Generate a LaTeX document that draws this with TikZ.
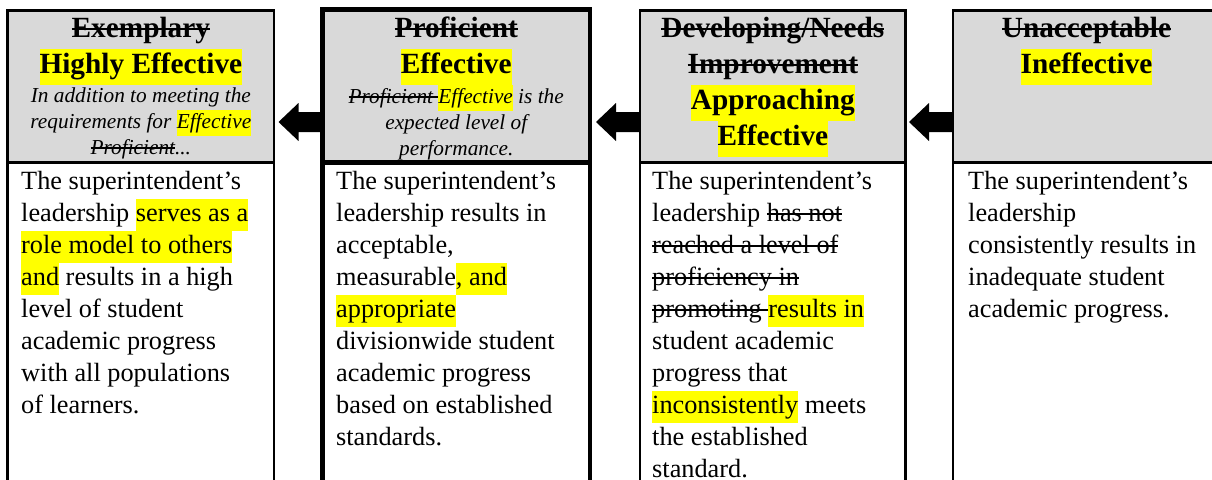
\documentclass[tikz,border=0pt]{standalone}
\usepackage{fontspec}
\setmainfont{Liberation Serif}
\definecolor{hdrgray}{RGB}{217,217,217}
\definecolor{hlyellow}{RGB}{255,255,0}
\newlength\strkth
\setlength\strkth{2pt}
\newcommand\hlt[1]{{\setlength\fboxsep{0pt}\colorbox{hlyellow}{\strut#1}}}
\newcommand\strk[1]{\leavevmode\setbox0\hbox{#1}\rlap{\rule[0.25em]{\wd0}{\strkth}}\box0}
\begin{document}
\begin{tikzpicture}[x=1pt,y=-1pt,
  hdrbox/.style={draw=black, fill=hdrgray, line width=2.6pt, inner sep=0pt, outer sep=0pt, anchor=north west},
  bodybox/.style={draw=black, fill=white, line width=2.6pt, inner sep=0pt, outer sep=0pt, anchor=north west},
  thickbox/.style={line width=4.6pt},
  titletxt/.style={anchor=north, inner sep=0pt, align=center, font=\setlength\strkth{2.8pt}\bfseries\fontsize{29.3}{36}\selectfont},
  notetxt/.style={anchor=north, inner sep=0pt, align=center, font=\setlength\strkth{1.6pt}\itshape\fontsize{21.3}{26}\selectfont},
  bodytxt/.style={anchor=north west, inner sep=0pt, align=left, font=\setlength\strkth{2pt}\fontsize{26.3}{32}\selectfont},
  blockarrow/.style={fill=black}
]
\useasboundingbox (0,0) rectangle (1212,479);
\clip (0,0) rectangle (1212,479);

% boxes
\node[bodybox, minimum width=266.3pt, minimum height=400pt] (body1) at (7.7,162.5) {};
\node[hdrbox, minimum width=266.3pt, minimum height=151.8pt] (hdr1) at (7.7,10.7) {};
\node[bodybox, thickbox, minimum width=267.5pt, minimum height=400pt] (body2) at (322.5,162.5) {};
\node[hdrbox, thickbox, minimum width=267.5pt, minimum height=153.3pt] (hdr2) at (322.5,9.2) {};
\node[bodybox, minimum width=265.7pt, minimum height=400pt] (body3) at (640,162.5) {};
\node[hdrbox, minimum width=265.7pt, minimum height=151.8pt] (hdr3) at (640,10.7) {};
\node[bodybox, minimum width=267pt, minimum height=400pt] (body4) at (953,162.5) {};
\node[hdrbox, minimum width=267pt, minimum height=151.8pt] (hdr4) at (953,10.7) {};

% arrows
\fill[blockarrow] (hdr2.west |- 0,112) -- +(-24,0) -- +(-24,-9) -- +(-44,10) -- +(-24,29) -- +(-24,20) -- +(0,20) -- cycle;
\fill[blockarrow] (hdr3.west |- 0,112) -- +(-24,0) -- +(-24,-9) -- +(-44,10) -- +(-24,29) -- +(-24,20) -- +(0,20) -- cycle;
\fill[blockarrow] (hdr4.west |- 0,112) -- +(-24,0) -- +(-24,-9) -- +(-44,10) -- +(-24,29) -- +(-24,20) -- +(0,20) -- cycle;

% box 1
\node[titletxt] (t1) at (140.85,12.3) {\strk{Exemplary}\strut\\\hlt{Highly Effective}};
\node[notetxt] (n1) at (140.85,83.8) {\strut In addition to meeting the\\requirements for \hlt{Effective}\\\strk{Proficient}...};
\node[bodytxt] (b1) at (21,167) {\strut The superintendent’s\\leadership \hlt{serves as a}\\\hlt{role model to others}\\\hlt{and} results in a high\\level of student\\academic progress\\with all populations\\of learners.};

% box 2
\node[titletxt] (t2) at (456.25,12.3) {\strk{Proficient}\strut\\\hlt{Effective}};
\node[notetxt] (n2) at (456.25,84.8) {\strk{Proficient }\hlt{Effective} is the\\expected level of\\performance.};
\node[bodytxt] (b2) at (336,167) {\strut The superintendent’s\\leadership results in\\acceptable,\\measurable\hlt{, and}\\\hlt{appropriate}\\divisionwide student\\academic progress\\based on established\\standards.};

% box 3
\node[titletxt] (t3) at (772.85,12.3) {\strk{Developing/Needs}\strut\\\strk{Improvement}\strut\\\hlt{Approaching}\\\hlt{Effective}};
\node[bodytxt] (b3) at (652,167) {\strut The superintendent’s\\leadership \strk{has not}\\\strk{reached a level of}\\\strk{proficiency in}\\\strk{promoting }\hlt{results in}\\student academic\\progress that\\\hlt{inconsistently} meets\\the established\\standard.};

% box 4
\node[titletxt] (t4) at (1086.5,12.3) {\strk{Unacceptable}\strut\\\hlt{Ineffective}};
\node[bodytxt] (b4) at (968,167) {\strut The superintendent’s\\leadership\\consistently results in\\inadequate student\\academic progress.};
\end{tikzpicture}
\end{document}
